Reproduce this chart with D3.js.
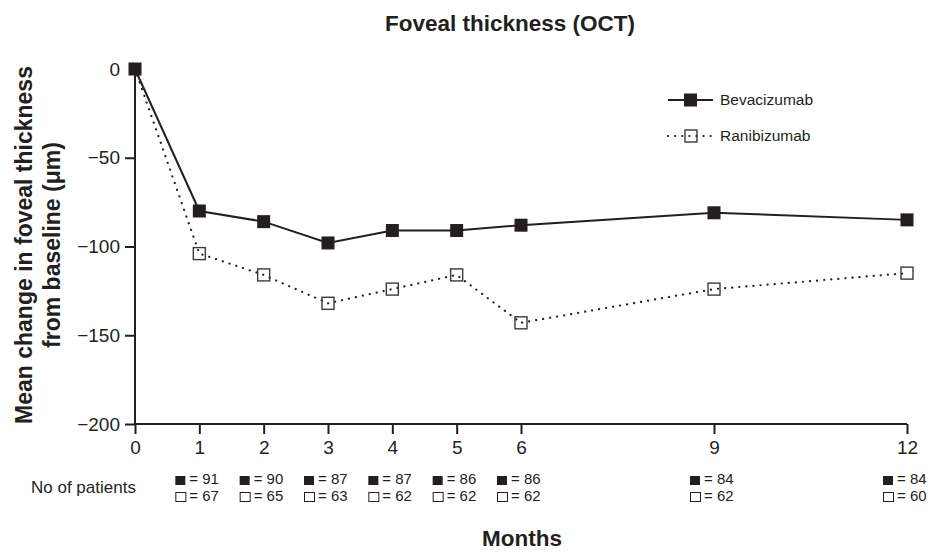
<!DOCTYPE html>
<html>
<head>
<meta charset="utf-8">
<title>Foveal thickness (OCT)</title>
<style>
  body { margin: 0; background: #fff; }
  svg text { font-family: "Liberation Sans", Arial, sans-serif; fill: #231f20; }
</style>
</head>
<body>
<div id="chart"></div>
<script src="https://d3js.org/d3.v7.min.js"></script>
<script>
// data
var months = [0, 1, 2, 3, 4, 5, 6, 9, 12];
var bevacizumab = [0, -80, -86, -98, -91, -91, -88, -81, -85];
var ranibizumab = [0, -104, -116, -132, -124, -116, -143, -124, -115];
var nBev = [null, 91, 90, 87, 87, 86, 86, 84, 84];
var nRan = [null, 67, 65, 63, 62, 62, 62, 62, 60];
var yTicks = [0, -50, -100, -150, -200];

var W = 931, H = 552;
var ink = "#231f20";

var svg = d3.select("#chart").append("svg")
    .attr("width", W)
    .attr("height", H);

var x = d3.scaleLinear().domain([0, 12]).range([135, 907]);
var y = d3.scaleLinear().domain([-200, 0]).range([424, 69]);

// axes
var yAxis = svg.append("g")
    .attr("transform", "translate(135,0)")
    .call(d3.axisLeft(y).tickValues(yTicks).tickSize(10).tickPadding(5)
      .tickFormat(function(d) { return d < 0 ? "\u2212" + Math.abs(d) : d; }));

var xAxis = svg.append("g")
    .attr("transform", "translate(0,424)")
    .call(d3.axisBottom(x).tickValues(months).tickSize(10).tickPadding(7));

[yAxis, xAxis].forEach(function(a) {
  a.select(".domain").attr("stroke", ink).attr("stroke-width", 2);
  a.selectAll(".tick line").attr("stroke", ink).attr("stroke-width", 2);
  a.selectAll("text").attr("font-size", 19).attr("fill", ink)
    .style("font-family", "'Liberation Sans', Arial, sans-serif");
});
// keep only the plain axis lines
yAxis.select(".domain").attr("d", "M0," + y(-200) + "V" + y(0));
xAxis.select(".domain").attr("d", "M" + x(0) + ",0H" + x(12));
yAxis.selectAll(".tick").filter(function(d) { return d === 0; }).select("line").remove();

// lines
var line = d3.line()
    .x(function(d, i) { return x(months[i]); })
    .y(function(d) { return y(d); });

svg.append("path")
    .datum(ranibizumab)
    .attr("d", line)
    .attr("fill", "none")
    .attr("stroke", ink)
    .attr("stroke-width", 2.2)
    .attr("stroke-linecap", "round")
    .attr("stroke-dasharray", "0.1 7");

svg.append("path")
    .datum(bevacizumab)
    .attr("d", line)
    .attr("fill", "none")
    .attr("stroke", ink)
    .attr("stroke-width", 2);

// markers
svg.selectAll(".ran").data(ranibizumab).enter().append("rect")
    .attr("x", function(d, i) { return x(months[i]) - 6; })
    .attr("y", function(d) { return y(d) - 6; })
    .attr("width", 12).attr("height", 12)
    .attr("fill", "none")
    .attr("stroke", "#3a3a3a")
    .attr("stroke-width", 1.4)
    .filter(function(d, i) { return i === 0; }).remove();

svg.selectAll(".bev").data(bevacizumab).enter().append("rect")
    .attr("x", function(d, i) { return x(months[i]) - 6.5; })
    .attr("y", function(d) { return y(d) - 6.5; })
    .attr("width", 13).attr("height", 13)
    .attr("fill", ink);

// legend
var lg = svg.append("g").attr("transform", "translate(668,100)");
lg.append("line").attr("x1", 0).attr("x2", 45).attr("y1", 0).attr("y2", 0)
    .attr("stroke", ink).attr("stroke-width", 2);
lg.append("rect").attr("x", 16).attr("y", -6.5).attr("width", 13).attr("height", 13).attr("fill", ink);
lg.append("text").attr("x", 52).attr("y", 5).attr("font-size", 15.5).text("Bevacizumab");
lg.append("line").attr("x1", 0).attr("x2", 45).attr("y1", 36).attr("y2", 36)
    .attr("stroke", ink).attr("stroke-width", 2.2).attr("stroke-linecap", "round")
    .attr("stroke-dasharray", "0.1 7");
lg.append("rect").attr("x", 17).attr("y", 30).attr("width", 12).attr("height", 12)
    .attr("fill", "none").attr("stroke", "#3a3a3a").attr("stroke-width", 1.4);
lg.append("text").attr("x", 52).attr("y", 41).attr("font-size", 15.5).text("Ranibizumab");

// patient numbers
svg.append("text").attr("x", 31).attr("y", 493).attr("font-size", 17).text("No of patients");
var cols = svg.selectAll(".np").data(months.slice(1)).enter().append("g")
    .attr("transform", function(d) { return "translate(" + (x(d) - 24) + ",0)"; });
cols.append("rect").attr("x", 0).attr("y", 476).attr("width", 10).attr("height", 9).attr("fill", ink);
cols.append("text").attr("x", 14).attr("y", 484).attr("font-size", 15)
    .text(function(d) { return "= " + nBev[months.indexOf(d)]; });
cols.append("rect").attr("x", 0.5).attr("y", 492.5).attr("width", 10).attr("height", 9)
    .attr("fill", "none").attr("stroke", ink).attr("stroke-width", 1);
cols.append("text").attr("x", 14).attr("y", 501).attr("font-size", 15)
    .text(function(d) { return "= " + nRan[months.indexOf(d)]; });

// titles
svg.append("text").attr("x", 510).attr("y", 31).attr("text-anchor", "middle")
    .attr("font-size", 22.5).attr("font-weight", "bold").text("Foveal thickness (OCT)");
svg.append("text").attr("x", 522).attr("y", 546).attr("text-anchor", "middle")
    .attr("font-size", 22.5).attr("font-weight", "bold").text("Months");
var yl = svg.append("text").attr("transform", "translate(0,245) rotate(-90)")
    .attr("text-anchor", "middle").attr("font-size", 23).attr("font-weight", "bold");
yl.append("tspan").attr("x", 0).attr("y", 32).text("Mean change in foveal thickness");
yl.append("tspan").attr("x", 0).attr("y", 60).text("from baseline (\u03bcm)");
</script>
</body>
</html>
